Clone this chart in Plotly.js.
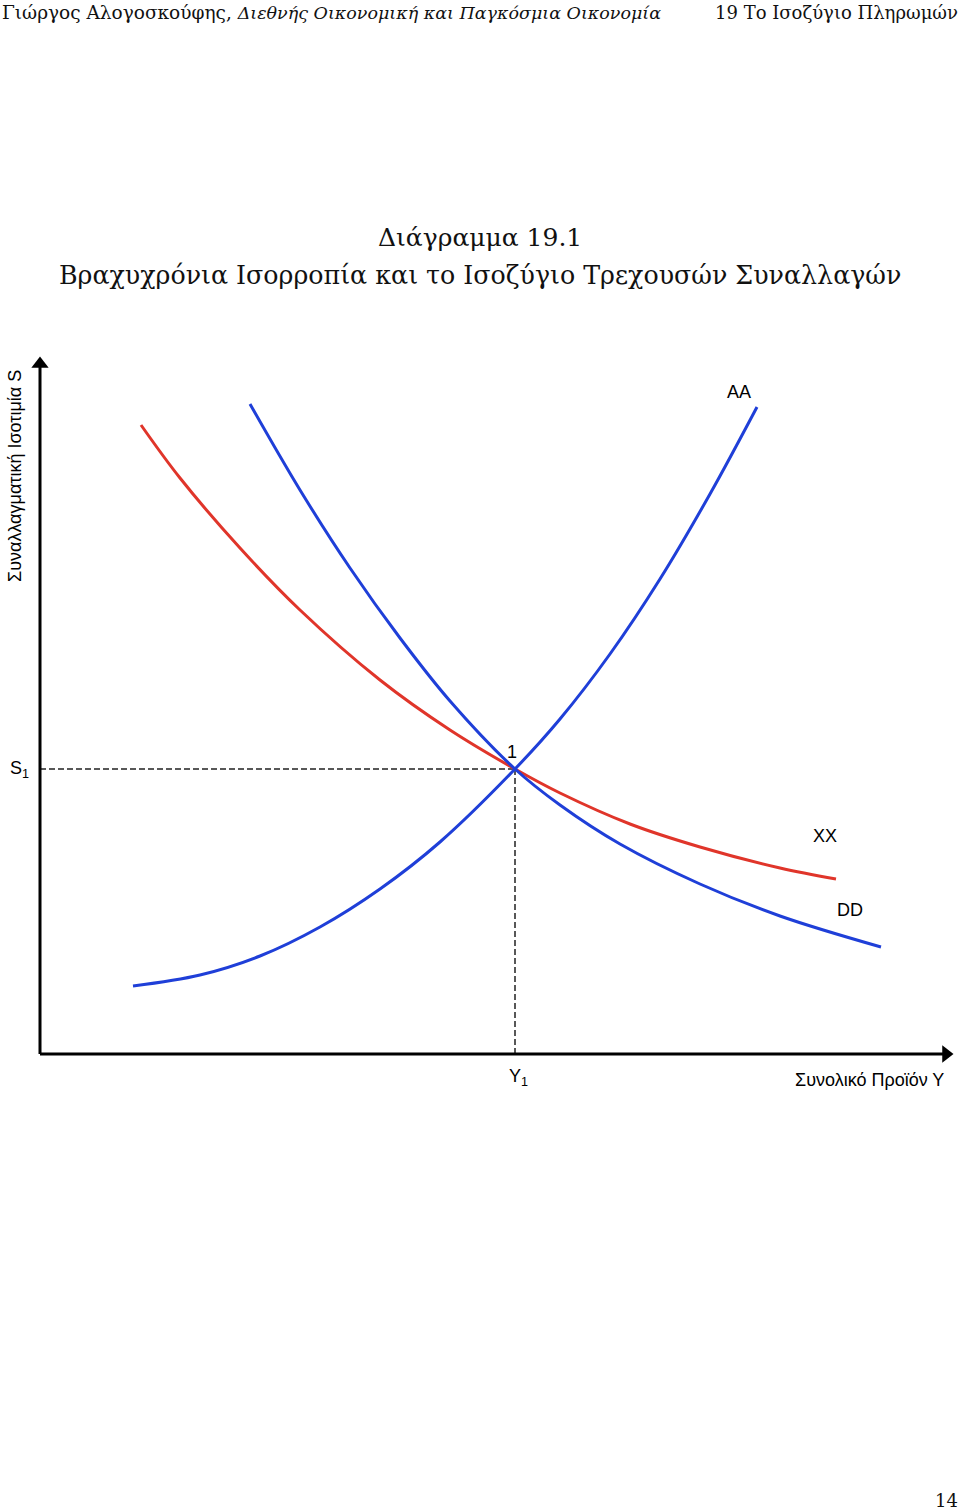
<!DOCTYPE html>
<html><head><meta charset="utf-8">
<script src="https://cdn.plot.ly/plotly-3.0.1.min.js"></script>
<style>html,body{margin:0;padding:0;background:#fff;}#chart{width:960px;height:1512px;}</style>
</head><body><div id="chart"></div>
<script>
// Coordinates: x = horizontal position units from origin, y = vertical units from origin
const aaX = [93, 160, 220, 280, 340, 400, 475, 520, 570, 620, 670, 717];
const aaY = [68, 79, 98, 127, 165, 212, 285, 335, 400, 475, 560, 647];
const ddX = [210, 260, 310, 360, 410, 475, 520, 580, 660, 740, 841];
const ddY = [650, 564, 486, 416, 353, 285, 249, 210, 170, 138, 107];
const xxX = [101, 140, 200, 260, 340, 410, 475, 520, 590, 660, 740, 796];
const xxY = [629, 576, 506, 444, 374, 324, 285, 261, 230, 207, 186, 175];
const s1 = 285;
const y1 = 475;
const xMin = -4, xMax = 920, yMin = -4, yMax = 704;
const xAxisEnd = 906, yAxisEnd = 690;

const blue = '#1f3fd8', red = '#e0352a';
const traces = [
  {x:[0, y1], y:[s1, s1], mode:'lines', line:{color:'#222', width:1.5, dash:'6px,3px'}, hoverinfo:'skip'},
  {x:[y1, y1], y:[0, s1], mode:'lines', line:{color:'#222', width:1.5, dash:'6px,3px'}, hoverinfo:'skip'},
  {x:xxX, y:xxY, mode:'lines', line:{color:red, width:3, shape:'spline', smoothing:1}, name:'XX'},
  {x:ddX, y:ddY, mode:'lines', line:{color:blue, width:3, shape:'spline', smoothing:1}, name:'DD'},
  {x:aaX, y:aaY, mode:'lines', line:{color:blue, width:3, shape:'spline', smoothing:1}, name:'AA'},
  // axes
  {x:[0, xAxisEnd], y:[0, 0], mode:'lines', line:{color:'#000', width:3}, hoverinfo:'skip'},
  {x:[0, 0], y:[0, yAxisEnd], mode:'lines', line:{color:'#000', width:3}, hoverinfo:'skip'},
  {x:[xAxisEnd], y:[0], mode:'markers', marker:{symbol:'triangle-right', size:15, color:'#000'}, cliponaxis:false, hoverinfo:'skip'},
  {x:[0], y:[yAxisEnd], mode:'markers', marker:{symbol:'triangle-up', size:15, color:'#000'}, cliponaxis:false, hoverinfo:'skip'}
];
const sans = 'Liberation Sans, Arial, sans-serif';
const serif = 'DejaVu Serif, serif';
const px = v => (v - xMin) / (xMax - xMin), py = v => (v - yMin) / (yMax - yMin);
const lab = (x, y, text, size, extra) => Object.assign({
  x:px(x), y:py(y), xref:'paper', yref:'paper', xanchor:'center', yanchor:'middle',
  text:text, showarrow:false, font:{family:sans, size:size, color:'#000'}}, extra || {});
const ann = [
  lab(-21, s1, 'S<sub>1</sub>', 18),
  lab(y1+3, -23, 'Y<sub>1</sub>', 18),
  lab(y1-3, s1+17, '1', 18),
  lab(699, 662, 'AA', 18),
  lab(785, 218, 'XX', 18),
  lab(810, 144, 'DD', 18),
  lab(906, -26, 'Συνολικό Προϊόν Υ', 18, {xanchor:'right'}),
  lab(-25, 578, 'Συναλλαγματική Ισοτιμία S', 18, {textangle:-90}),
  {xref:'paper', yref:'paper', x:px(-40), y:py(1054), xanchor:'left', yanchor:'top',
   text:'Γιώργος Αλογοσκούφης, <i><span style="font-size:17.5px">Διεθνής Οικονομική και Παγκόσμια Οικονομία</span></i>',
   showarrow:false, font:{family:serif, size:18.5, color:'#111'}},
  {xref:'paper', yref:'paper', x:1, y:py(1054), xanchor:'right', yanchor:'top',
   text:'19 Το Ισοζύγιο Πληρωμών', showarrow:false, font:{family:serif, size:18, color:'#111'}},
  {xref:'paper', yref:'paper', x:px(440), y:py(1054-238), xanchor:'center', yanchor:'middle',
   text:'Διάγραμμα 19.1', showarrow:false, font:{family:serif, size:25, color:'#111'}},
  {xref:'paper', yref:'paper', x:px(440), y:py(1054-275), xanchor:'center', yanchor:'middle',
   text:'Βραχυχρόνια Ισορροπία και το Ισοζύγιο Τρεχουσών Συναλλαγών', showarrow:false, font:{family:serif, size:25.3, color:'#111'}},
  {xref:'paper', yref:'paper', x:1, y:py(1054-1500), xanchor:'right', yanchor:'middle',
   text:'14', showarrow:false, font:{family:serif, size:18, color:'#111'}}
];
const layout = {
  width:960, height:1512,
  margin:{l:36, r:0, t:350, b:454},
  paper_bgcolor:'#fff', plot_bgcolor:'#fff',
  showlegend:false,
  xaxis:{range:[xMin, xMax], showgrid:false, zeroline:false, showticklabels:false, ticks:'', showline:false, fixedrange:true},
  yaxis:{range:[yMin, yMax], showgrid:false, zeroline:false, showticklabels:false, ticks:'', showline:false, fixedrange:true},
  annotations: ann
};
Plotly.newPlot('chart', traces, layout, {staticPlot:true, displayModeBar:false});
</script></body></html>
